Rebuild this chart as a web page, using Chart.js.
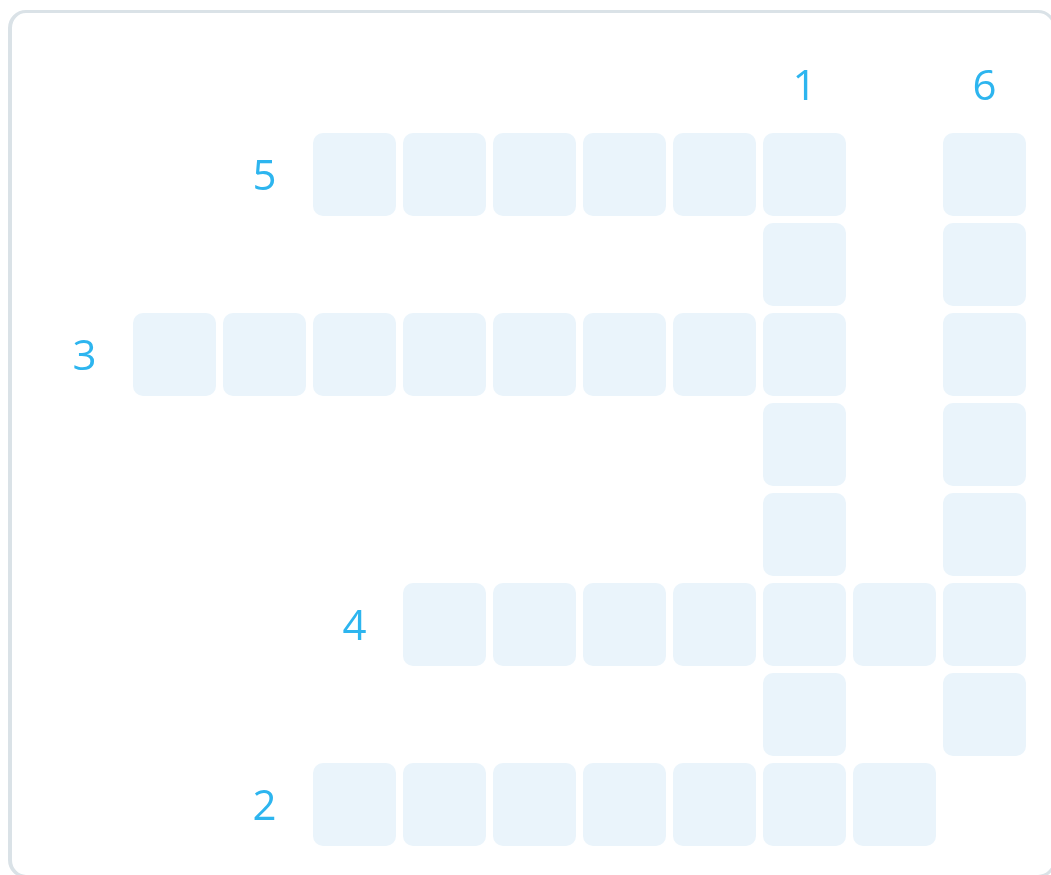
<!DOCTYPE html>
<html>
  <head>
    <title>Crossword grid</title>
    <script src="https://cdn.jsdelivr.net/npm/chart.js@4/dist/chart.umd.min.js"></script>
    <style>
      html, body { margin: 0; padding: 0; background: #ffffff; }
      body { width: 1051px; height: 875px; position: relative; overflow: hidden; }
      #card {
        position: absolute; left: 8px; top: 10px; width: 1041px; height: 862px;
        border: 3px solid #dae2e7; border-left-width: 4px; border-radius: 18px; background: #ffffff;
      }
      #wrap { position: absolute; left: 0; top: 0; width: 1051px; height: 875px; }
    </style>
  </head>
  <body>
    <div id="card"></div>
    <div id="wrap">
      <canvas id="canvas"></canvas>
    </div>
    <script>
      // grid columns (one spare column left of the grid for clue numbers)
      const columns = ['-1', '0', '1', '2', '3', '4', '5', '6', '7', '8', '9'];
      const rowCount = 9; // row -1 holds the down-clue numbers

      // words: number, direction, start row, start column, length
      const clueNumbers = ['1', '2', '3', '4', '5', '6'];
      const clueDirections = ['down', 'across', 'across', 'across', 'across', 'down'];
      const clueRows = [0, 7, 2, 5, 0, 0];
      const clueCols = [7, 2, 0, 3, 2, 9];
      const clueLengths = [8, 7, 8, 7, 6, 7];

      const cellColor = '#eaf4fb';
      const numberColor = '#2db5ef';

      // collect the grid squares covered by the words
      const cells = [];
      const seen = {};
      clueNumbers.forEach((n, i) => {
        for (let k = 0; k < clueLengths[i]; k++) {
          const r = clueDirections[i] === 'down' ? clueRows[i] + k : clueRows[i];
          const c = clueDirections[i] === 'down' ? clueCols[i] : clueCols[i] + k;
          const key = r + ':' + c;
          if (seen[key]) continue;
          seen[key] = true;
          const pad = 3.5 / 90;
          cells.push({ x: String(c), y: [r + pad, r + 1 - pad] });
        }
      });

      const clueNumberPlugin = {
        id: 'clueNumbers',
        afterDatasetsDraw(chart) {
          const { ctx, scales } = chart;
          ctx.save();
          ctx.fillStyle = numberColor;
          ctx.font = '42px "Open Sans"';
          ctx.textAlign = 'center';
          ctx.textBaseline = 'middle';
          clueNumbers.forEach((n, i) => {
            const r = clueDirections[i] === 'down' ? clueRows[i] - 1 : clueRows[i];
            const c = clueDirections[i] === 'down' ? clueCols[i] : clueCols[i] - 1;
            const px = scales.x.getPixelForValue(columns.indexOf(String(c)));
            const py = scales.y.getPixelForValue(r + 0.5);
            ctx.fillText(n, px, py + 4);
          });
          ctx.restore();
        },
      };

      window.onload = () => {
        const ctx = document.getElementById('canvas').getContext('2d');
        window.grid = new Chart(ctx, {
          type: 'bar',
          data: {
            labels: columns,
            datasets: [
              {
                data: cells,
                backgroundColor: cellColor,
                borderWidth: 0,
                borderRadius: 10,
                borderSkipped: false,
                inflateAmount: 0,
                categoryPercentage: 1,
                barPercentage: 83 / 90,
              },
            ],
          },
          options: {
            responsive: true,
            maintainAspectRatio: false,
            animation: false,
            layout: {
              padding: { left: 39.5, top: 39.5, right: 21.5, bottom: 25.5 },
            },
            plugins: {
              legend: { display: false },
              tooltip: { enabled: false },
            },
            scales: {
              x: { type: 'category', display: false, offset: true },
              y: { type: 'linear', display: false, min: -1, max: rowCount - 1, reverse: true },
            },
          },
          plugins: [clueNumberPlugin],
        });
      };
    </script>
  </body>
</html>
